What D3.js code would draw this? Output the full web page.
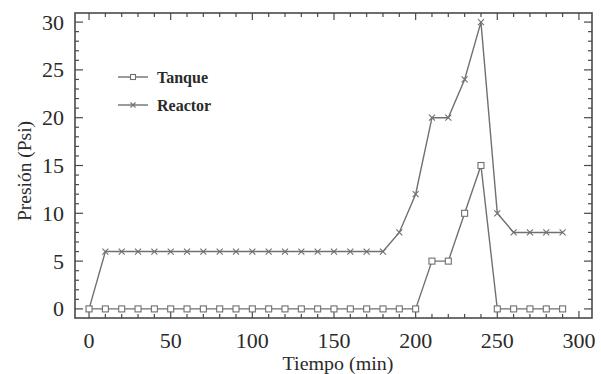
<!DOCTYPE html>
<html><head><meta charset="utf-8">
<script src="https://cdn.jsdelivr.net/npm/d3@7"></script>
<style>body{margin:0;background:#fff}svg{display:block}</style>
</head><body>
<script>
const times = [0,10,20,30,40,50,60,70,80,90,100,110,120,130,140,150,160,170,180,190,200,210,220,230,240,250,260,270,280,290];
const tanque = [0,0,0,0,0,0,0,0,0,0,0,0,0,0,0,0,0,0,0,0,0,5,5,10,15,0,0,0,0,0];
const reactor = [0,6,6,6,6,6,6,6,6,6,6,6,6,6,6,6,6,6,6,8,12,20,20,24,30,10,8,8,8,8];
const xTicks = [0,50,100,150,200,250,300];
const yTicks = [0,5,10,15,20,25,30];
const seriesNames = ["Tanque","Reactor"];

const W=601,H=374;
const L=75,R=592,T=13,B=318;
const svg=d3.select("body").append("svg").attr("width",W).attr("height",H);
const x=d3.scaleLinear().domain([-8.6,308]).range([L,R]);
const y=d3.scaleLinear().domain([-0.95,30.95]).range([B,T]);
const font="'Liberation Serif','Times New Roman',serif";
const axisCol="#4a4a4a";

// frame
svg.append("rect").attr("x",L).attr("y",T).attr("width",R-L).attr("height",B-T)
  .attr("fill","none").attr("stroke",axisCol).attr("stroke-width",1.6);

// ticks (mirrored, inward)
const xMinor=d3.range(0,301,10), yMinor=d3.range(0,31,1);
const tk=svg.append("g").attr("stroke",axisCol).attr("stroke-width",1.2);
xMinor.forEach(v=>{
  const len = v%50===0?7:4;
  tk.append("line").attr("x1",x(v)).attr("x2",x(v)).attr("y1",B).attr("y2",B-len);
  tk.append("line").attr("x1",x(v)).attr("x2",x(v)).attr("y1",T).attr("y2",T+len);
});
yMinor.forEach(v=>{
  const len = v%5===0?8:4;
  tk.append("line").attr("y1",y(v)).attr("y2",y(v)).attr("x1",L).attr("x2",L+len);
  tk.append("line").attr("y1",y(v)).attr("y2",y(v)).attr("x1",R).attr("x2",R-len);
});

// tick labels
svg.append("g").selectAll("text").data(xTicks).join("text")
  .attr("x",d=>x(d)).attr("y",348).attr("text-anchor","middle")
  .attr("font-family",font).attr("font-size",22).attr("fill","#2a2a2a").text(d=>d);
svg.append("g").selectAll("text").data(yTicks).join("text")
  .attr("x",64).attr("y",d=>y(d)+7.5).attr("text-anchor","end")
  .attr("font-family",font).attr("font-size",22).attr("fill","#2a2a2a").text(d=>d);

// axis titles
svg.append("text").attr("transform","translate(338,370) scale(1.08,1)").attr("text-anchor","middle")
  .attr("font-family",font).attr("font-size",18.5).attr("fill","#2a2a2a").text("Tiempo (min)");
svg.append("text").attr("transform","translate(31,171) rotate(-90)").attr("text-anchor","middle")
  .attr("font-family",font).attr("font-size",19.5).attr("fill","#2a2a2a").text("Presión (Psi)");

const lineCol="#707070";
const line=d3.line().x(d=>x(d[0])).y(d=>y(d[1]));
const tData=times.map((t,i)=>[t,tanque[i]]);
const rData=times.map((t,i)=>[t,reactor[i]]);

function drawX(g,cx,cy,s){
  g.append("path").attr("d",`M${cx-s},${cy-s}L${cx+s},${cy+s}M${cx-s},${cy+s}L${cx+s},${cy-s}`)
   .attr("stroke",lineCol).attr("stroke-width",1.1).attr("fill","none");
}
function drawSq(g,cx,cy,s){
  g.append("rect").attr("x",cx-s).attr("y",cy-s).attr("width",2*s).attr("height",2*s)
   .attr("fill","#fff").attr("stroke",lineCol).attr("stroke-width",1.1);
}

svg.append("path").datum(rData).attr("d",line).attr("fill","none").attr("stroke",lineCol).attr("stroke-width",1.4);
const rg=svg.append("g");
rData.forEach(d=>drawX(rg,x(d[0]),y(d[1]),3));
svg.append("path").datum(tData).attr("d",line).attr("fill","none").attr("stroke",lineCol).attr("stroke-width",1.4);
const tg=svg.append("g");
tData.forEach(d=>drawSq(tg,x(d[0]),y(d[1]),3));

// legend
const lg=svg.append("g");
const legY=[77,105];
seriesNames.forEach((n,i)=>{
  lg.append("line").attr("x1",118).attr("x2",148).attr("y1",legY[i]).attr("y2",legY[i])
    .attr("stroke",lineCol).attr("stroke-width",1.4);
  if(i===0) drawSq(lg,133,legY[i],2.5); else drawX(lg,133,legY[i],2.5);
  lg.append("text").attr("x",157).attr("y",legY[i]+5.5).attr("font-family",font)
    .attr("font-size",16).attr("font-weight","bold").attr("fill","#2a2a2a").text(n);
});
</script>
</body></html>
